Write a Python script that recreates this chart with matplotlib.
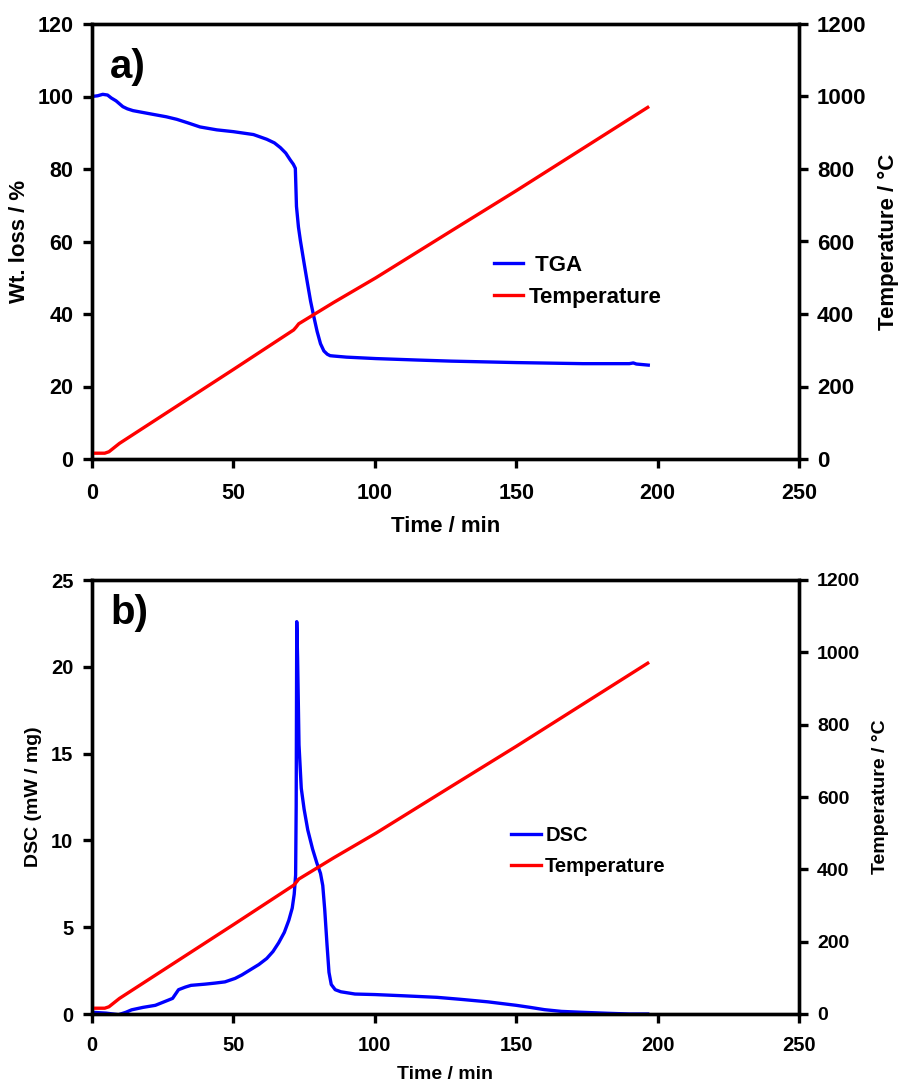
import matplotlib.pyplot as plt

plt.rcParams['font.family'] = ['Liberation Sans', 'DejaVu Sans']
plt.rcParams['font.weight'] = 'bold'
plt.rcParams['axes.labelweight'] = 'bold'

# TGA curve: time (min) vs weight (%)
tga_time = [0, 2, 3.8, 5.5, 6.8, 8.5, 10.9, 12.5, 14.5, 20,
            26.3, 30, 34, 38.2, 44.1, 50, 57.1, 61.8, 64.5, 66.6,
            68.5, 70.1, 71.2, 71.9, 72.1, 72.3, 73, 73.7, 75, 76.1,
            77.3, 78.4, 79.6, 80.8, 82, 83.2, 84.2, 85.5, 90, 100.4,
            115, 127, 150, 173.6, 190, 191.4, 192.5, 196.7]
tga_wt = [100, 100.2, 100.6, 100.4, 99.6, 98.8, 97.2, 96.6, 96.1, 95.3,
          94.4, 93.7, 92.7, 91.6, 90.8, 90.3, 89.5, 88.2, 87.2, 85.9,
          84.4, 82.5, 81.3, 80.2, 75, 69.7, 64, 60.2, 54, 48.9,
          43.5, 39.4, 35.2, 31.8, 29.8, 28.9, 28.5, 28.4, 28.1, 27.7,
          27.3, 27.0, 26.6, 26.3, 26.3, 26.5, 26.2, 25.9]

# furnace temperature (same ramp in both runs)
temp_time = [0, 4.5, 6, 9.7, 50, 71.3, 72.2, 73.1, 85.5, 100.4, 127, 150, 196.5]
temp_c = [16, 16, 20, 43, 247, 356, 364, 373, 432, 500, 629, 740, 970]

# DSC curve: time (min) vs heat flow (mW/mg)
dsc_time = [0, 5, 9.4, 12, 14, 18, 22.4, 27, 28.5, 30.6,
            33, 35, 40, 43.5, 47, 50.6, 53, 56.5, 59, 61.8,
            64, 66, 68, 69.6, 70.8, 71.5, 72.0, 72.2, 72.4, 72.7,
            73.2, 74.0, 75.0, 76.3, 78.0, 79.5, 80.8, 81.6, 82.3, 83.1,
            83.8, 84.6, 86, 88, 93, 100, 110, 122, 130, 140,
            150, 155, 160, 166, 173, 182.5, 190, 196.5]
dsc_val = [0.1, 0.05, -0.04, 0.1, 0.24, 0.38, 0.5, 0.8, 0.9, 1.4,
           1.55, 1.65, 1.72, 1.78, 1.85, 2.05, 2.25, 2.6, 2.85, 3.2,
           3.6, 4.1, 4.7, 5.4, 6.1, 6.9, 8.0, 12, 22.6, 20.5,
           15.5, 13.0, 11.8, 10.6, 9.5, 8.7, 8.1, 7.4, 6.0, 4.0,
           2.4, 1.7, 1.4, 1.28, 1.15, 1.12, 1.05, 0.96, 0.85, 0.7,
           0.5, 0.38, 0.25, 0.15, 0.1, 0.04, 0.0, 0.0]

x_ticks = [0, 50, 100, 150, 200, 250]
temp_ticks = [0, 200, 400, 600, 800, 1000, 1200]

LW = 2.4
SPINE = 2.4


def style_axes(ax, axr, fs_tick, fs_rtick, fs_label, fs_rlabel, xpad):
    for a in (ax, axr):
        for s in a.spines.values():
            s.set_linewidth(SPINE)
    ax.tick_params(axis='both', direction='out', length=6.5, width=SPINE, labelsize=fs_tick)
    ax.tick_params(axis='x', pad=xpad)
    ax.tick_params(axis='y', pad=7)
    axr.tick_params(axis='y', direction='out', length=6.5, width=SPINE, labelsize=fs_rtick, pad=6.5)
    ax.set_xlim(0, 250)
    ax.set_xticks(x_ticks)
    axr.set_ylim(0, 1200)
    axr.set_yticks(temp_ticks)
    ax.set_xlabel('Time / min', fontsize=fs_label, labelpad=8.5)
    axr.set_ylabel('Temperature / \u00b0C', fontsize=fs_rlabel, labelpad=8.5)


fig = plt.figure(figsize=(9.01, 10.84), dpi=100)

# a) TGA
ax1 = fig.add_axes([92 / 901, 1 - 459 / 1084, 707 / 901, 435 / 1084])
ax1r = ax1.twinx()
l1, = ax1.plot(tga_time, tga_wt, color='#0000ff', lw=LW, label=' TGA')
l2, = ax1r.plot(temp_time, temp_c, color='#ff0000', lw=LW, label='Temperature')
ax1.set_ylim(0, 120)
ax1.set_yticks([0, 20, 40, 60, 80, 100, 120])
ax1.set_ylabel('Wt. loss / %', fontsize=16, labelpad=5)
style_axes(ax1, ax1r, 15.5, 16, 16, 16, 11)
ax1.text(0.0255, 0.945, 'a)', transform=ax1.transAxes, fontsize=29, fontweight='bold', va='top', ha='left')
ax1r.legend(handles=[l1, l2], loc='upper left', bbox_to_anchor=(494 / 901, 1 - 255 / 1084),
            bbox_transform=fig.transFigure, frameon=False, fontsize=16, handlelength=1.3,
            handletextpad=0.28, labelspacing=0.48, borderpad=0, borderaxespad=0)

# b) DSC
ax2 = fig.add_axes([92 / 901, 1 - 1014 / 1084, 707 / 901, 434 / 1084])
ax2r = ax2.twinx()
l3, = ax2.plot(dsc_time, dsc_val, color='#0000ff', lw=LW, label='DSC')
l4, = ax2r.plot(temp_time, temp_c, color='#ff0000', lw=LW, label='Temperature')
ax2.set_ylim(0, 25)
ax2.set_yticks([0, 5, 10, 15, 20, 25])
ax2.set_ylabel('DSC (mW / mg)', fontsize=14, labelpad=6)
style_axes(ax2, ax2r, 14.5, 14, 14, 14, 9)
ax2.text(0.0265, 0.968, 'b)', transform=ax2.transAxes, fontsize=29, fontweight='bold', va='top', ha='left')
ax2r.legend(handles=[l3, l4], loc='upper left', bbox_to_anchor=(511 / 901, 1 - 826 / 1084),
            bbox_transform=fig.transFigure, frameon=False, fontsize=14.5, handlelength=1.5,
            handletextpad=0.2, labelspacing=0.62, borderpad=0, borderaxespad=0)

fig.savefig('out.png', dpi=100)
